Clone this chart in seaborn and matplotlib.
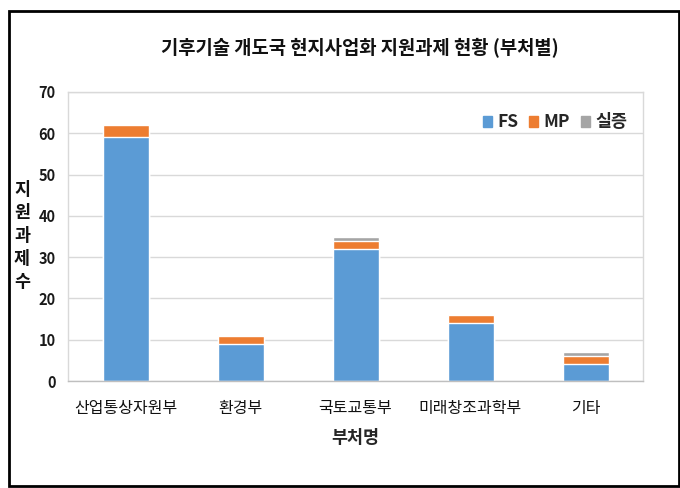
import matplotlib
matplotlib.use("Agg")
import matplotlib.pyplot as plt
import matplotlib.patches as mpatches
import seaborn as sns
import pandas as pd
import numpy as np

categories = ["산업통상자원부", "환경부", "국토교통부", "미래창조과학부", "기타"]
fs_vals = [59, 9, 32, 14, 4]
mp_vals = [3, 2, 2, 2, 2]
demo_vals = [0, 0, 1, 0, 1]
series_names = ["FS", "MP", "실증"]
colors = ["#5B9BD5", "#ED7D31", "#A5A5A5"]
y_ticks = [0, 10, 20, 30, 40, 50, 60, 70]
title = "기후기술 개도국 현지사업화 지원과제 현황 (부처별)"
xlabel = "부처명"
ylabel = "지\n원\n과\n제\n수"

sns.set_theme(style="white")
plt.rcParams["font.family"] = ["Noto Sans CJK KR", "DejaVu Sans"]

df = pd.DataFrame({"부처": categories, "FS": fs_vals, "MP": mp_vals, "실증": demo_vals})
df["c_fs"] = df["FS"]
df["c_mp"] = df["FS"] + df["MP"]
df["c_all"] = df["FS"] + df["MP"] + df["실증"]

fig = plt.figure(figsize=(6.8, 4.88), dpi=100)
ax = fig.add_axes([68/680, 1-381/488, (643-68)/680, (381-92)/488])

# stacked by layering cumulative totals
sns.barplot(data=df, x="부처", y="c_all", color=colors[2], width=0.4, ax=ax, saturation=1, label=series_names[2])
sns.barplot(data=df, x="부처", y="c_mp", color=colors[1], width=0.4, ax=ax, saturation=1, label=series_names[1])
sns.barplot(data=df, x="부처", y="c_fs", color=colors[0], width=0.4, ax=ax, saturation=1, label=series_names[0])

ax.set_ylim(0, 70)
ax.set_xlim(-0.5, len(categories) - 0.5)
ax.set_yticks(y_ticks)
ax.set_yticklabels([str(v) for v in y_ticks], fontsize=10.5, fontweight="bold", color="#1a1a1a")
ax.tick_params(axis="y", length=0, pad=9)
ax.set_xticks(range(len(categories)))
ax.set_xticklabels(categories, fontsize=11.5, color="#111111")
ax.tick_params(axis="x", which="major", length=0, pad=14)
ax.set_xticks(np.arange(-0.5, len(categories), 1.0), minor=True)
ax.tick_params(axis="x", which="minor", length=5, color="#D0D0D0", width=1)

ax.grid(axis="y", color="#D9D9D9", linewidth=1)
ax.set_axisbelow(True)
for s in ax.spines.values():
    s.set_visible(True)
    s.set_color("#D9D9D9")
    s.set_linewidth(1)
ax.spines["bottom"].set_color("#BFBFBF")

ax.set_xlabel(xlabel, fontsize=12.5, fontweight="bold", labelpad=8)
ax.set_ylabel("")

handles = [mpatches.Patch(color=c, label=n) for c, n in zip(colors, series_names)]
leg = ax.legend(handles=handles, loc="upper right", ncol=3, frameon=False,
                prop={"weight": "bold", "size": 12.5}, handlelength=0.55, handleheight=0.6,
                handletextpad=0.3, columnspacing=0.6, bbox_to_anchor=(1.0, 0.98))

fig.text(22/680, 1-236/488, ylabel, ha="center", va="center", fontsize=12.5,
         fontweight="bold", color="#111111", linespacing=1.35)
fig.text(360/680, 1-48/488, title, ha="center", va="center", fontsize=13.5, fontweight="bold", color="#111111")

border = mpatches.Rectangle((9/680, 2/488), 670/680, 475/488, transform=fig.transFigure,
                            fill=False, edgecolor="black", linewidth=2)
fig.patches.append(border)

fig.savefig("out.png", dpi=100)
